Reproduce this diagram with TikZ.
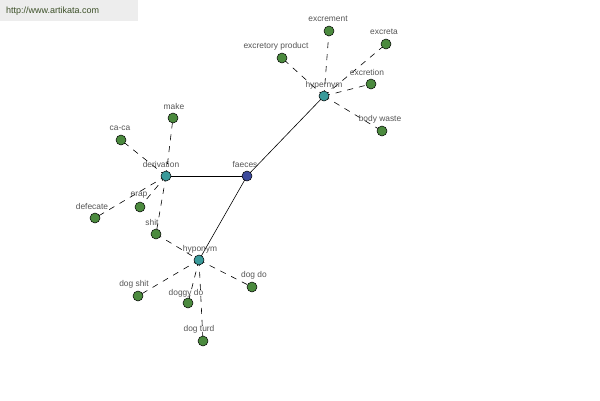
\documentclass[tikz,border=0pt]{standalone}
\usepackage{fontspec}
\setmainfont{Liberation Sans}
\begin{document}
\begin{tikzpicture}[x=1pt,y=-1pt,
  leaf/.style={circle,draw=black,line width=0.5pt,fill=leafgreen,minimum size=10pt,inner sep=0pt},
  hub/.style={circle,draw=black,line width=0.5pt,fill=hubteal,minimum size=10pt,inner sep=0pt},
  root/.style={circle,draw=black,line width=0.5pt,fill=rootblue,minimum size=10pt,inner sep=0pt},
  lbl/.style={font=\fontsize{8.4}{9}\selectfont,text=labelgray,inner sep=0pt},
  rel/.style={dash pattern=on 6pt off 6pt,line width=0.6pt},
  solidlink/.style={line width=0.6pt}]
\definecolor{leafgreen}{HTML}{4B8A3E}
\definecolor{hubteal}{HTML}{3A9A9A}
\definecolor{rootblue}{HTML}{3C4A9C}
\definecolor{labelgray}{HTML}{555555}
\useasboundingbox (0,0) rectangle (600,400);
\fill[white] (0,0) rectangle (600,400);
\fill[black!7] (0,0) rectangle (138,21);
\node[anchor=west,font=\fontsize{9}{10}\selectfont,text={rgb,255:red,60;green,80;blue,40},inner sep=0pt] (wm) at (6,11) {http://www.artikata.com};
% core nodes
\coordinate (pf) at (247,176);
\coordinate (pd) at (166,176);
\coordinate (phe) at (324,96);
\coordinate (pho) at (199,260);
% leaves coords
\coordinate (p1) at (329,31);
\coordinate (p2) at (386,44);
\coordinate (p3) at (282,58);
\coordinate (p4) at (371,84);
\coordinate (p5) at (382,131);
\coordinate (p6) at (173,118);
\coordinate (p7) at (121,140);
\coordinate (p8) at (140,207);
\coordinate (p9) at (95,218);
\coordinate (p10) at (156,234);
\coordinate (p11) at (138,296);
\coordinate (p12) at (188,303);
\coordinate (p13) at (252,287);
\coordinate (p14) at (203,341);
% edges
\draw[solidlink] (pf) -- (pd);
\draw[solidlink] (pf) -- (phe);
\draw[solidlink] (pf) -- (pho);
\foreach \l in {p1,p2,p3,p4,p5} \draw[rel] (phe) -- (\l);
\foreach \l in {p6,p7,p8,p9,p10} \draw[rel] (pd) -- (\l);
\draw[rel] (p10) -- (pho);
\foreach \l in {p11,p12,p13,p14} \draw[rel] (pho) -- (\l);
% nodes
\node[root] (faeces) at (pf) {};
\node[hub] (derivation) at (pd) {};
\node[hub] (hypernym) at (phe) {};
\node[hub] (hyponym) at (pho) {};
\node[leaf] (excrement) at (p1) {};
\node[leaf] (excreta) at (p2) {};
\node[leaf] (excretoryproduct) at (p3) {};
\node[leaf] (excretion) at (p4) {};
\node[leaf] (bodywaste) at (p5) {};
\node[leaf] (make) at (p6) {};
\node[leaf] (caca) at (p7) {};
\node[leaf] (erap) at (p8) {};
\node[leaf] (defecate) at (p9) {};
\node[leaf] (shit) at (p10) {};
\node[leaf] (dogshit) at (p11) {};
\node[leaf] (doggydo) at (p12) {};
\node[leaf] (dogdo) at (p13) {};
\node[leaf] (dogturd) at (p14) {};
% labels
\node[lbl] (lf) at (245,164) {faeces};
\node[lbl] (ld) at (161,164) {derivation};
\node[lbl] (lhe) at (324,85) {hypernym};
\node[lbl] (lho) at (200,249) {hyponym};
\node[lbl] (l1) at (328,19) {excrement};
\node[lbl] (l2) at (384,32) {excreta};
\node[lbl] (l3) at (276,46) {excretory product};
\node[lbl] (l4) at (367,72) {excretion};
\node[lbl] (l5) at (380,119) {body waste};
\node[lbl] (l6) at (174,106) {make};
\node[lbl] (l7) at (120,128) {ca-ca};
\node[lbl] (l8) at (139,195) {erap};
\node[lbl] (l9) at (92,206) {defecate};
\node[lbl] (l10) at (152,222) {shit};
\node[lbl] (l11) at (134,284) {dog shit};
\node[lbl] (l12) at (186,293) {doggy do};
\node[lbl] (l13) at (254,275) {dog do};
\node[lbl] (l14) at (199,329) {dog turd};
\end{tikzpicture}
\end{document}
